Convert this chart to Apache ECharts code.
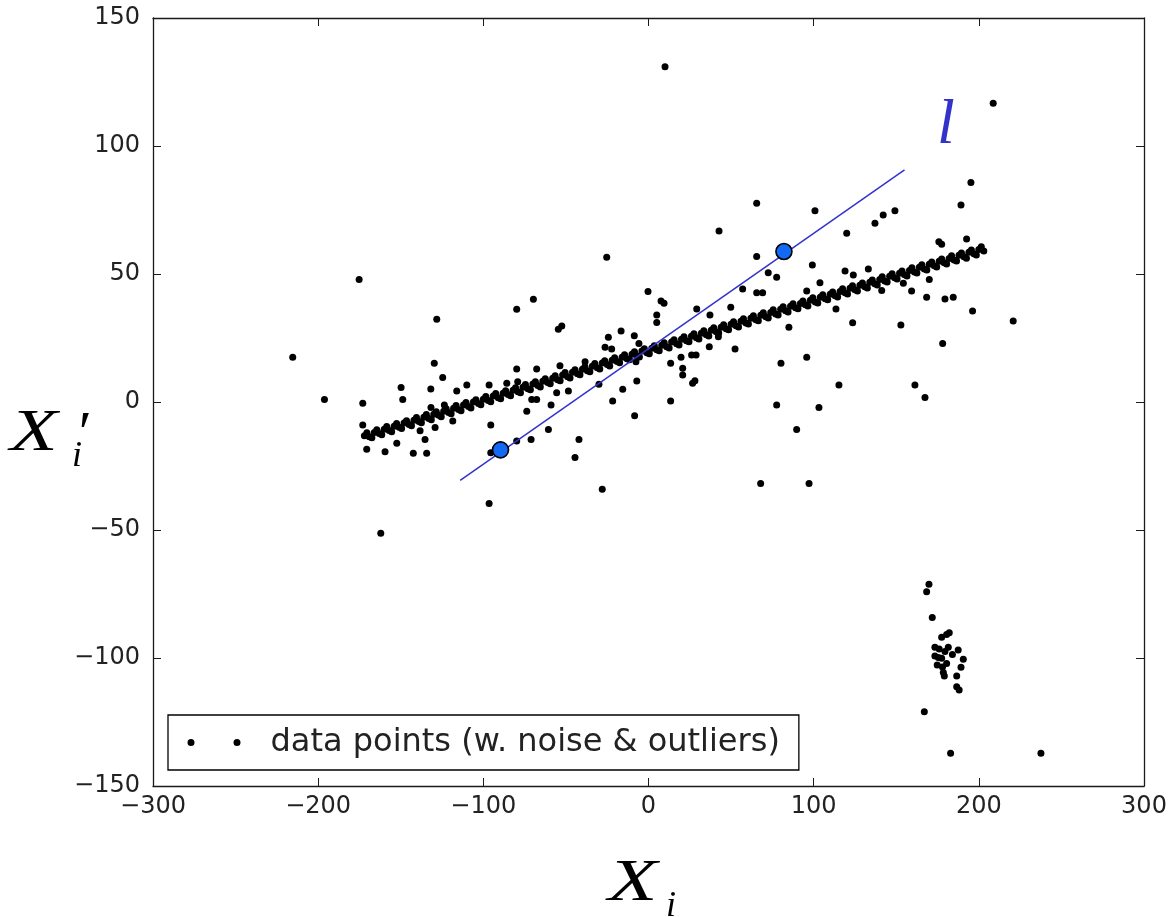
<!DOCTYPE html>
<html>
<head>
<meta charset="utf-8">
<script src="https://cdn.jsdelivr.net/npm/echarts@6/dist/echarts.min.js"></script>
<style>html,body{margin:0;padding:0;background:#fff;}#chart{width:1171px;height:917px;}</style>
</head>
<body>
<div id="chart"></div>
<script>
// Axis ticks
var xTicks = [-300, -200, -100, 0, 100, 200, 300];
var yTicks = [-150, -100, -50, 0, 50, 100, 150];

// Main linear band of inliers (read along the dense strip)
var bandPoints = [
[-172,-13.2],[-169,-13.6],[-166,-11.9],[-163,-12.3],[-160,-10.6],[-157,-11.1],[-154,-9.5],[-151,-9.9],
[-148,-8.2],[-145,-8.8],[-142,-7.1],[-139,-7.6],[-136,-6.0],[-133,-6.4],[-130,-4.8],[-127,-5.2],
[-124,-3.6],[-121,-4.1],[-118,-2.4],[-115,-2.9],[-112,-1.2],[-109,-1.8],[-106,0.0],[-103,-0.6],
[-100,1.1],[-97,0.6],[-94,2.3],[-91,1.7],[-88,3.4],[-85,2.9],[-82,4.6],[-79,4.0],
[-76,5.8],[-73,5.2],[-70,7.0],[-67,6.4],[-64,8.1],[-61,7.6],[-58,9.3],[-55,8.7],
[-52,10.5],[-49,9.9],[-46,11.6],[-43,11.0],[-40,12.8],[-37,12.2],[-34,14.0],[-31,13.4],
[-28,15.2],[-25,14.6],[-22,16.3],[-19,15.8],[-16,17.5],[-13,16.9],[-10,18.7],[-7,18.1],
[-4,19.9],[-1,19.2],[2,21.0],[5,20.4],[8,22.2],[11,21.6],[14,23.4],[17,22.8],
[20,24.5],[23,23.9],[26,25.7],[29,25.1],[32,26.9],[35,26.3],[38,28.0],[41,27.4],
[44,29.2],[47,28.6],[50,30.4],[53,29.8],[56,31.5],[59,30.9],[62,32.7],[65,32.1],
[68,33.9],[71,33.3],[74,35.0],[77,34.4],[80,36.2],[83,35.6],[86,37.4],[89,36.8],
[92,38.5],[95,38.0],[98,39.7],[101,39.1],[104,40.9],[107,40.3],[110,42.1],[113,41.5],
[116,43.2],[119,42.7],[122,44.4],[125,43.8],[128,45.6],[131,45.0],[134,46.8],[137,46.2],
[140,47.9],[143,47.3],[146,49.1],[149,48.5],[152,50.3],[155,49.7],[158,51.4],[161,50.8],
[164,52.6],[167,52.0],[170,53.8],[173,53.2],[176,55.0],[179,54.4],[182,56.1],[185,55.5],
[188,57.3],[191,56.7],[194,58.5],[197,57.9],[200,59.6],[203,59.0],
[-170.5,-12.0],[-167.5,-14.0],[-164.5,-10.8],[-161.5,-12.8],[-158.5,-9.6],[-155.5,-11.6],[-152.5,-8.4],[-149.5,-10.4],
[-146.5,-7.3],[-143.5,-9.3],[-140.5,-6.1],[-137.5,-8.1],[-134.5,-4.9],[-131.5,-6.9],[-128.5,-3.8],[-125.5,-5.8],
[-122.5,-2.6],[-119.5,-4.6],[-116.5,-1.4],[-113.5,-3.4],[-110.5,-0.2],[-107.5,-2.3],[-104.5,0.9],[-101.5,-1.1],
[-98.5,2.1],[-95.5,0.1],[-92.5,3.3],[-89.5,1.3],[-86.5,4.4],[-83.5,2.4],[-80.5,5.6],[-77.5,3.6],
[-74.5,6.8],[-71.5,4.8],[-68.5,7.9],[-65.5,5.9],[-62.5,9.1],[-59.5,7.1],[-56.5,10.3],[-53.5,8.3],
[-50.5,11.5],[-47.5,9.4],[-44.5,12.6],[-41.5,10.6],[-38.5,13.8],[-35.5,11.8],[-32.5,15.0],[-29.5,12.9],
[-26.5,16.1],[-23.5,14.1],[-20.5,17.3],[-17.5,15.3],[-14.5,18.5],[-11.5,16.5],[-8.5,19.6],[-5.5,17.6],
[-2.5,20.8],[0.5,18.8],[3.5,22.0],[6.5,20.0],[9.5,23.1],[12.5,21.1],[15.5,24.3],[18.5,22.3],
[21.5,25.5],[24.5,23.5],[27.5,26.7],[30.5,24.6],[33.5,27.8],[36.5,25.8],[39.5,29.0],[42.5,27.0],
[45.5,30.2],[48.5,28.2],[51.5,31.3],[54.5,29.3],[57.5,32.5],[60.5,30.5],[63.5,33.7],[66.5,31.7],
[69.5,34.9],[72.5,32.8],[75.5,36.0],[78.5,34.0],[81.5,37.2],[84.5,35.2],[87.5,38.4],[90.5,36.4],
[93.5,39.5],[96.5,37.5],[99.5,40.7],[102.5,38.7],[105.5,41.9],[108.5,39.9],[111.5,43.0],[114.5,41.0],
[117.5,44.2],[120.5,42.2],[123.5,45.4],[126.5,43.4],[129.5,46.5],[132.5,44.5],[135.5,47.7],[138.5,45.7],
[141.5,48.9],[144.5,46.9],[147.5,50.1],[150.5,48.0],[153.5,51.2],[156.5,49.2],[159.5,52.4],[162.5,50.4],
[165.5,53.6],[168.5,51.6],[171.5,54.7],[174.5,52.7],[177.5,55.9],[180.5,53.9],[183.5,57.1],[186.5,55.1],
[189.5,58.2],[192.5,56.2],[195.5,59.4],[198.5,57.4],[201.5,60.6]
];

// Scattered noisy points and outliers
var noisePoints = [
[-215.4,17.5],[-196.2,1.0],[-175.2,47.9],[-173.0,-0.5],[-173.0,-9.0],[-170.6,-18.5],[-162.1,-51.3],
[-159.5,-19.4],[-152.4,-16.1],[-149.8,5.7],[-148.8,1.0],[-142.4,-20.0],[-138.3,-11.2],[-135.3,-14.6],
[-134.3,-20.0],[-131.8,5.1],[-131.7,-2.1],[-129.7,15.1],[-129.2,-10.0],[-128.2,32.3],[-124.6,9.6],
[-123.6,-1.2],[-118.5,-7.4],[-116.1,4.3],[-110.0,6.6],[-96.5,6.6],[-96.5,-39.6],[-95.5,-9.0],
[-95.5,-19.8],[-85.8,7.3],[-79.8,36.2],[-79.8,12.9],[-79.2,7.9],[-79.8,-15.2],[-73.7,-3.6],
[-71.1,-14.6],[-70.7,1.0],[-69.7,40.1],[-67.7,12.9],[-67.7,1.0],[-60.6,-10.7],[-59.0,-1.2],
[-55.6,3.6],[-54.6,28.4],[-53.6,14.2],[-52.5,29.7],[-48.5,4.3],[-44.5,-21.7],[-42.1,-14.6],
[-38.4,15.7],[-30.0,6.9],[-28.0,-34.1],[-26.3,21.4],[-25.3,56.5],[-24.3,25.3],[-22.3,20.7],
[-21.7,0.4],[-16.6,27.7],[-15.6,5.0],[-8.6,25.9],[-8.4,-5.4],[-7.1,8.2],[-5.8,22.9],[-7.6,15.7],
[-0.3,43.2],[5.0,34.0],[5.0,31.1],[7.6,39.5],[9.4,38.6],[10.0,131.0],[13.4,15.1],[13.4,0.4],
[19.7,17.5],[20.7,13.2],[20.7,10.5],[26.1,18.4],[28.8,18.4],[26.7,7.3],[28.1,8.3],[29.2,36.3],
[36.8,21.6],[37.2,34.0],[42.3,25.5],[42.7,66.8],[49.8,37.0],[52.4,20.7],[57.0,44.1],[65.5,77.6],
[65.5,56.8],[65.5,42.7],[67.9,-31.8],[69.1,42.7],[72.5,50.5],[77.6,48.7],[77.6,-1.2],[80.2,15.1],
[85.0,29.2],[89.7,-10.7],[95.8,43.4],[95.8,17.5],[97.2,-31.8],[99.2,53.5],[100.8,74.7],[103.2,-2.1],
[103.8,46.6],[113.5,36.3],[115.3,6.6],[119.0,51.2],[120.0,65.9],[123.6,31.0],[124.0,49.6],[133.1,52.0],
[137.1,69.8],[141.2,43.6],[142.1,73.0],[149.2,74.7],[152.8,30.1],[154.3,46.4],[159.3,43.4],[161.3,6.6],
[167.4,1.8],[168.4,40.9],[170.0,47.9],[175.8,62.6],[177.5,61.6],[178.1,22.9],[179.5,40.2],[184.5,40.9],
[189.2,77.0],[192.6,63.7],[195.2,85.7],[196.2,35.5],[208.7,116.7],[220.8,31.6],[237.6,-137.2]
];

// Outlier cluster near (180, -100)
var clusterPoints = [
[169.8,-71.2],[168.4,-74.1],[171.8,-84.2],[182.1,-90.1],[180.5,-90.8],[177.5,-91.9],[173.4,-95.8],
[181.5,-95.8],[187.5,-96.9],[179.5,-97.5],[173.4,-99.2],[177.5,-100.1],[190.6,-100.5],[184.0,-98.6],
[174.8,-102.7],[180.5,-102.1],[189.2,-103.6],[178.5,-105.7],[179.1,-107.0],[186.6,-107.0],
[186.6,-111.2],[188.1,-112.5],[167.0,-121.0],[182.9,-137.2],[176.0,-96.5],[175.5,-99.8],[178.0,-103.5]
];

// Fitted line l and its two defining points
var lineEnds = [[-114,-30.6],[155,90.7]];
var linePoints = [[-89.6,-18.7],[82.0,58.8]];

var allPoints = bandPoints.concat(noisePoints).concat(clusterPoints);
var seriesName = 'data points (w. noise & outliers)';

var chart = echarts.init(document.getElementById('chart'), null, {renderer: 'canvas'});
var fmt = function (v) { return String(v).replace('-', '\u2212'); };
var frame = {onZero: false, lineStyle: {color: '#1a1a1a', width: 1.3}};
var tick = {show: true, inside: true, length: 8, lineStyle: {color: '#1a1a1a', width: 1}};
var lblFont = {fontFamily: 'DejaVu Sans', fontSize: 24, color: '#222'};
var serif = 'Liberation Serif';

chart.setOption({
  animation: false,
  backgroundColor: '#ffffff',
  grid: {left: 153, top: 18, right: 27, bottom: 131, containLabel: false},
  xAxis: [
    {type: 'value', min: xTicks[0], max: xTicks[xTicks.length - 1], interval: 100, position: 'bottom',
     axisLine: frame, axisTick: tick, splitLine: {show: false},
     axisLabel: Object.assign({margin: 9, formatter: fmt}, lblFont)},
    {type: 'value', min: xTicks[0], max: xTicks[xTicks.length - 1], interval: 100, position: 'top',
     axisLine: frame, axisTick: tick, splitLine: {show: false}, axisLabel: {show: false}}
  ],
  yAxis: [
    {type: 'value', min: yTicks[0], max: yTicks[yTicks.length - 1], interval: 50, position: 'left',
     axisLine: frame, axisTick: tick, splitLine: {show: false},
     axisLabel: Object.assign({margin: 13, formatter: fmt}, lblFont)},
    {type: 'value', min: yTicks[0], max: yTicks[yTicks.length - 1], interval: 50, position: 'right',
     axisLine: frame, axisTick: tick, splitLine: {show: false}, axisLabel: {show: false}}
  ],
  legend: {
    data: [seriesName],
    left: 168, top: 715,
    orient: 'horizontal',
    backgroundColor: '#fff',
    borderColor: '#000', borderWidth: 1.3, borderRadius: 0,
    padding: [11, 19, 11, 19.5],
    icon: 'path://M0,3.5A3.5,3.5,0,1,0,7,3.5A3.5,3.5,0,1,0,0,3.5ZM46,3.5A3.5,3.5,0,1,0,53,3.5A3.5,3.5,0,1,0,46,3.5Z',
    itemWidth: 53, itemHeight: 7,
    selectedMode: false,
    itemStyle: {opacity: 1, color: '#000'},
    textStyle: {fontFamily: 'DejaVu Sans', fontSize: 32, color: '#222', lineHeight: 33, padding: [0, 0, 0, 25]}
  },
  series: [
    {name: seriesName, type: 'scatter', data: allPoints, symbol: 'circle', symbolSize: 7,
     itemStyle: {color: '#000', opacity: 1}, z: 2},
    {name: 'l', type: 'line', data: lineEnds, symbol: 'none',
     lineStyle: {color: '#3232cc', width: 1.5}, z: 3},
    {name: 'l points', type: 'scatter', data: linePoints, symbol: 'circle', symbolSize: 16,
     itemStyle: {color: '#1169f5', borderColor: '#000', borderWidth: 1.6, opacity: 1}, z: 4}
  ],
  graphic: [
    {type: 'text', x: 608, y: 854, scaleX: 1.35, style: {text: 'X', fontFamily: serif, fontStyle: 'italic', fontSize: 60, fill: '#000'}},
    {type: 'text', x: 666, y: 889, style: {text: 'i', fontFamily: serif, fontStyle: 'italic', fontSize: 36, fill: '#000'}},
    {type: 'text', x: 10, y: 404, scaleX: 1.3, style: {text: 'X', fontFamily: serif, fontStyle: 'italic', fontSize: 60, fill: '#000'}},
    {type: 'text', x: 75, y: 406, style: {text: '\u2032', fontFamily: serif, fontStyle: 'italic', fontSize: 60, fill: '#000'}},
    {type: 'text', x: 72, y: 439, style: {text: 'i', fontFamily: serif, fontStyle: 'italic', fontSize: 36, fill: '#000'}},
    {type: 'text', x: 937, y: 94, style: {text: 'l', fontFamily: serif, fontStyle: 'italic', fontSize: 64, fill: '#3333cc'}}
  ]
});
</script>
</body>
</html>
